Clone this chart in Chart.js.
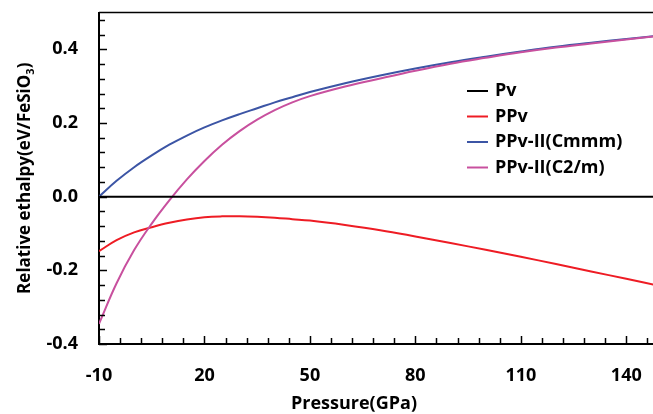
<!DOCTYPE html>
<html lang="en">
<head>
<meta charset="UTF-8">
<title>Relative ethalpy</title>
<script src="https://cdn.jsdelivr.net/npm/chart.js"></script>
<style>
    html, body { margin: 0; padding: 0; background: #fff; overflow: hidden; }
    #wrap { width: 653px; height: 414px; }
</style>
</head>
<body>
<div id="wrap"><canvas id="chart" width="653" height="414"></canvas></div>
<script>
// values (eV / FeSiO3), relative to Pv
const pressure = [-10, -5, 0, 5, 10, 15, 20, 25, 30, 35, 40, 45, 50, 60, 70, 80, 90, 100, 110, 120, 130, 140, 150];
const pv   = [0, 0, 0, 0, 0, 0, 0, 0, 0, 0, 0, 0, 0, 0, 0, 0, 0, 0, 0, 0, 0, 0, 0];
const ppv  = [-0.148, -0.118, -0.097, -0.083, -0.071, -0.062, -0.056, -0.0535, -0.053, -0.0543, -0.057, -0.061, -0.065, -0.077, -0.091, -0.108, -0.126, -0.144, -0.163, -0.183, -0.203, -0.223, -0.243];
const cmmm = [0, 0.043, 0.080, 0.112, 0.141, 0.166, 0.188, 0.207, 0.224, 0.240, 0.256, 0.270, 0.284, 0.308, 0.329, 0.348, 0.365, 0.380, 0.394, 0.407, 0.418, 0.428, 0.438];
const c2m  = [-0.345, -0.235, -0.145, -0.073, -0.010, 0.047, 0.097, 0.141, 0.178, 0.209, 0.235, 0.256, 0.273, 0.299, 0.321, 0.342, 0.361, 0.377, 0.392, 0.405, 0.416, 0.427, 0.437];

const labels = ['Pv', 'PPv', 'PPv-II(Cmmm)', 'PPv-II(C2/m)'];
const colors = ['#000000', '#ee1c24', '#3c55a5', '#c8509e'];

const xTicks = [-10, 20, 50, 80, 110, 140];
const yTicks = [-0.4, -0.2, 0.0, 0.2, 0.4];

const FONT = '"Open Sans", "DejaVu Sans", sans-serif';

function toPoints(ys) {
    return ys.map((y, i) => ({ x: pressure[i], y: y }));
}

// frame, inside ticks, titles and legend
const framePlugin = {
    id: 'frame',
    afterDraw(chart) {
        const { ctx, chartArea: { left, right, top, bottom } } = chart;
        const xs = chart.scales.x, ys = chart.scales.y;
        ctx.save();
        ctx.strokeStyle = '#000';

        // top border
        ctx.lineWidth = 1.5;
        ctx.beginPath();
        ctx.moveTo(left, top);
        ctx.lineTo(right, top);
        ctx.stroke();

        // inward ticks, minor every 6 GPa / 0.04
        for (let v = -10; v <= 150; v += 6) {
            const px = Math.round(xs.getPixelForValue(v)) + 0.5;
            if (px > right) break;
            const len = xTicks.includes(v) ? 8 : 6;
            ctx.beginPath();
            ctx.moveTo(px, bottom);
            ctx.lineTo(px, bottom - len);
            ctx.stroke();
        }
        for (let i = 0; i <= 22; i++) {
            const v = Math.round((-0.4 + i * 0.04) * 100) / 100;
            const py = Math.round(ys.getPixelForValue(v)) + 0.5;
            const major = yTicks.some(t => Math.abs(t - v) < 1e-6);
            ctx.beginPath();
            ctx.moveTo(left, py);
            ctx.lineTo(left + (major ? 8 : 6), py);
            ctx.stroke();
        }

        // axis titles
        ctx.fillStyle = '#000';
        ctx.font = 'bold 18px ' + FONT;
        ctx.textAlign = 'center';
        ctx.textBaseline = 'middle';
        ctx.fillText('Pressure(GPa)', 354, 404);

        const main = 'Relative ethalpy(eV/FeSiO', sub = '3', end = ')';
        ctx.font = 'bold 17px ' + FONT;
        const w1 = ctx.measureText(main).width, w3 = ctx.measureText(end).width;
        ctx.font = 'bold 11px ' + FONT;
        const w2 = ctx.measureText(sub).width;
        ctx.translate(30, (top + bottom) / 2);
        ctx.rotate(-Math.PI / 2);
        ctx.textAlign = 'left';
        ctx.textBaseline = 'alphabetic';
        const sx = -(w1 + w2 + w3) / 2;
        ctx.font = 'bold 17px ' + FONT;
        ctx.fillText(main, sx, 0);
        ctx.font = 'bold 11px ' + FONT;
        ctx.fillText(sub, sx + w1, 4);
        ctx.font = 'bold 17px ' + FONT;
        ctx.fillText(end, sx + w1 + w2, 0);
        ctx.setTransform(1, 0, 0, 1, 0, 0);

        // legend
        ctx.font = 'bold 18px ' + FONT;
        ctx.textBaseline = 'middle';
        ctx.textAlign = 'left';
        chart.data.datasets.forEach((ds, i) => {
            const y = 91 + i * 25.5;
            ctx.strokeStyle = ds.borderColor;
            ctx.lineWidth = 2;
            ctx.beginPath();
            ctx.moveTo(467, y);
            ctx.lineTo(488, y);
            ctx.stroke();
            ctx.fillStyle = '#000';
            ctx.fillText(ds.label, 495, y);
        });
        ctx.restore();
    }
};

const datasets = [pv, ppv, cmmm, c2m].map((ys, i) => ({
    label: labels[i],
    data: toPoints(ys),
    borderColor: colors[i],
    backgroundColor: colors[i],
    borderWidth: 2,
    pointRadius: 0,
    fill: false,
    tension: 0.4,
    order: [0, 3, 2, 1][i]
}));

function noPad(s) {
    s.paddingTop = 0;
    s.paddingBottom = 0;
    s.paddingLeft = 0;
    s.paddingRight = 0;
}

new Chart(document.getElementById('chart').getContext('2d'), {
    type: 'line',
    data: { datasets: datasets },
    plugins: [framePlugin],
    options: {
        responsive: false,
        animation: false,
        layout: { padding: { top: 12.5, left: 0, right: 0, bottom: 0 } },
        plugins: { legend: { display: false }, tooltip: { enabled: false } },
        scales: {
            x: {
                type: 'linear',
                min: -10,
                max: 147.6,
                afterBuildTicks: s => { s.ticks = xTicks.map(v => ({ value: v })); },
                afterFit: s => { s.height = 70; noPad(s); },
                grid: { display: true, drawOnChartArea: false, drawTicks: false },
                border: { display: true, color: '#000', width: 2 },
                ticks: {
                    autoSkip: false,
                    maxRotation: 0,
                    padding: 21,
                    color: '#000',
                    font: { family: FONT, size: 18, weight: 'bold' }
                }
            },
            y: {
                type: 'linear',
                min: -0.4,
                max: 0.5,
                afterBuildTicks: s => { s.ticks = yTicks.map(v => ({ value: v })); },
                afterFit: s => { s.width = 99; noPad(s); },
                grid: { display: true, drawOnChartArea: false, drawTicks: false },
                border: { display: true, color: '#000', width: 2 },
                ticks: {
                    padding: 21,
                    color: '#000',
                    font: { family: FONT, size: 18, weight: 'bold' },
                    callback: v => v.toFixed(1)
                }
            }
        }
    }
});
</script>
</body>
</html>
